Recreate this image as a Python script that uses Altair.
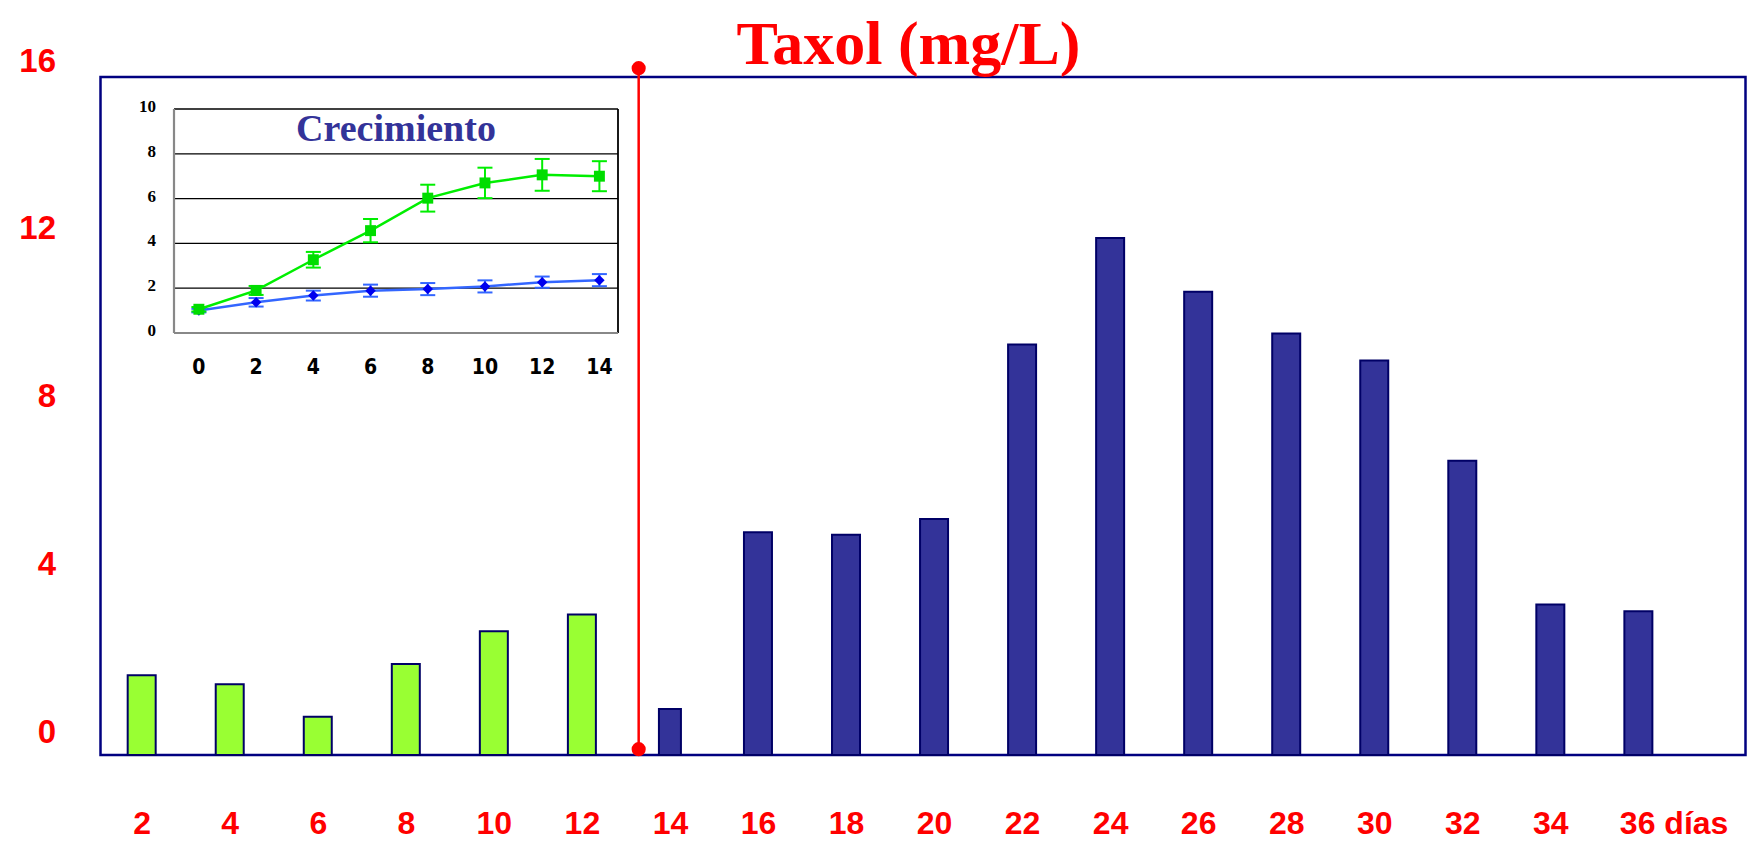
import altair as alt
import pandas as pd

# ---------------- data ----------------
days = [2, 4, 6, 8, 10, 12, 14, 16, 18, 20, 22, 24, 26, 28, 30, 32, 34, 36]
taxol = [1.90, 1.69, 0.91, 2.17, 2.95, 3.35, 1.10, 5.31, 5.25, 5.63,
         9.79, 12.33, 11.05, 10.05, 9.41, 7.02, 3.59, 3.43]
phase = ["crecimiento"] * 6 + ["producción"] * 12
y_ticks = [0, 4, 8, 12, 16]
title_text = "Taxol (mg/L)"

divider_day = 13.29
divider_span = [0.14, 16.38]

inset_title_text = "Crecimiento"
inset_days = [0, 2, 4, 6, 8, 10, 12, 14]
green_vals = [1.06, 1.90, 3.27, 4.57, 6.02, 6.70, 7.06, 7.00]
green_err = [0.10, 0.20, 0.35, 0.52, 0.60, 0.68, 0.71, 0.67]
blue_vals = [1.00, 1.37, 1.67, 1.89, 1.96, 2.08, 2.27, 2.36]
blue_err = [0.08, 0.19, 0.22, 0.27, 0.27, 0.27, 0.25, 0.27]
inset_y_ticks = [0, 2, 4, 6, 8, 10]
inset_grid = [2, 4, 6, 8, 10]

# ---------------- layout constants ----------------
W, H = 1645, 678
X_DOM = [1.178, 38.32]
Y_DOM = [0, 16.17]
IX_DOM = [-0.87, 14.65]
IY_DOM = [0, 10]
IX_RANGE = [73.5, 517.5]
IY_RANGE = [256, 32]

RED = "#FF0000"
NAVY = "#000066"
SANS = "Liberation Sans"
NARROW = "Liberation Sans Narrow, Arial Narrow, DejaVu Sans Condensed, Liberation Sans"
SERIF = "Liberation Serif"

main_df = pd.DataFrame({"day": days, "taxol": taxol, "phase": phase})
div_df = pd.DataFrame({"day": [divider_day], "y": [divider_span[1]], "y2": [divider_span[0]]})
dot_df = pd.DataFrame({"day": [divider_day, divider_day], "y": divider_span})

xs = alt.Scale(domain=X_DOM, nice=False, zero=False)
ys = alt.Scale(domain=Y_DOM, nice=False, zero=True)

x_axis = alt.Axis(
    values=days, title=None, domain=False, ticks=False, tickSize=0, grid=False,
    labelExpr="datum.value == 36 ? '36 días' : datum.label",
    labelAlign={"condition": {"test": "datum.value == 36", "value": "left"}, "value": "center"},
    labelOffset={"condition": {"test": "datum.value == 36", "value": -19}, "value": 0},
    labelFont=SANS, labelFontSize=32, labelFontWeight="bold", labelColor=RED,
    labelPadding=78, labelBaseline="alphabetic", labelFlush=False,
    labelOverlap=False, labelBound=False,
)
y_axis = alt.Axis(
    values=y_ticks, title=None, domain=False, ticks=False, tickSize=0, grid=False,
    labelFont=SANS, labelFontSize=33, labelFontWeight="bold", labelColor=RED,
    labelPadding=45, labelOffset=-23, labelFlush=False, labelOverlap=False,
)

bars = alt.Chart(main_df).mark_bar(stroke=NAVY, strokeWidth=2).encode(
    x=alt.X("day:Q", scale=xs, axis=x_axis),
    y=alt.Y("taxol:Q", scale=ys, axis=y_axis),
    color=alt.Color("phase:N", scale=alt.Scale(domain=["crecimiento", "producción"],
                                               range=["#99FF33", "#333399"]), legend=None),
    size=alt.condition("datum.day == 14", alt.value(22), alt.value(28)),
)

divider = alt.Chart(div_df).mark_rule(color=RED, strokeWidth=2.5).encode(
    x=alt.X("day:Q", scale=xs), y=alt.Y("y:Q", scale=ys), y2="y2:Q"
)
dots = alt.Chart(dot_df).mark_circle(color=RED, opacity=1, size=200).encode(
    x=alt.X("day:Q", scale=xs), y=alt.Y("y:Q", scale=ys)
)

title = alt.Chart(pd.DataFrame({"t": [title_text]})).mark_text(
    font=SERIF, fontSize=62, fontWeight="bold", color=RED, align="center", baseline="alphabetic"
).encode(x=alt.value(808), y=alt.value(-13), text="t:N")

main = alt.layer(bars, divider, dots, title)

# ---------------- inset ----------------
ixs = alt.Scale(domain=IX_DOM, range=IX_RANGE, nice=False, zero=False)
iys = alt.Scale(domain=IY_DOM, range=IY_RANGE, nice=False, zero=False)

series_df = pd.DataFrame({
    "day": inset_days * 2,
    "v": green_vals + blue_vals,
    "err": green_err + blue_err,
    "serie": ["verde"] * len(inset_days) + ["azul"] * len(inset_days),
})
series_df["lo"] = series_df["v"] - series_df["err"]
series_df["hi"] = series_df["v"] + series_df["err"]
g_df = series_df[series_df.serie == "verde"]
b_df = series_df[series_df.serie == "azul"]


def IX(field):
    return alt.X(field, scale=ixs, axis=None)


def IY(field):
    return alt.Y(field, scale=iys, axis=None)


grid_df = pd.DataFrame({"g": inset_grid})
grid = alt.Chart(grid_df).mark_rule(color="#000000", strokeWidth=1.3).encode(
    y=IY("g:Q"),
    x=alt.XDatum(IX_DOM[0], scale=ixs, axis=None),
    x2=alt.datum(IX_DOM[1]),
)
right_line = alt.Chart(pd.DataFrame({"a": [IX_DOM[1]]})).mark_rule(color="#000000", strokeWidth=1.8).encode(
    x=IX("a:Q"),
    y=alt.YDatum(IY_DOM[0], scale=iys, axis=None),
    y2=alt.datum(IY_DOM[1]),
)
left_line = alt.Chart(pd.DataFrame({"a": [IX_DOM[0]]})).mark_rule(color="#888888", strokeWidth=2.2).encode(
    x=IX("a:Q"),
    y=alt.YDatum(IY_DOM[0], scale=iys, axis=None),
    y2=alt.datum(IY_DOM[1]),
)
bottom_line = alt.Chart(pd.DataFrame({"a": [IY_DOM[0]]})).mark_rule(color="#888888", strokeWidth=2.2).encode(
    y=IY("a:Q"),
    x=alt.XDatum(IX_DOM[0], scale=ixs, axis=None),
    x2=alt.datum(IX_DOM[1]),
)


def series_layers(df, line_color, mark_color, shape, msize):
    line = alt.Chart(df).mark_line(color=line_color, strokeWidth=2.5).encode(
        x=IX("day:Q"), y=IY("v:Q"))
    err = alt.Chart(df).mark_rule(color=line_color, strokeWidth=2).encode(
        x=IX("day:Q"), y=IY("lo:Q"), y2="hi:Q")
    cap_lo = alt.Chart(df).mark_tick(color=line_color, orient="horizontal", thickness=2, size=15, opacity=1).encode(
        x=IX("day:Q"), y=IY("lo:Q"))
    cap_hi = alt.Chart(df).mark_tick(color=line_color, orient="horizontal", thickness=2, size=15, opacity=1).encode(
        x=IX("day:Q"), y=IY("hi:Q"))
    pts = alt.Chart(df).mark_point(shape=shape, filled=True, color=mark_color, opacity=1, size=msize).encode(
        x=IX("day:Q"), y=IY("v:Q"))
    return [line, err, cap_lo, cap_hi, pts]


blue_layers = series_layers(b_df, "#3366FF", "#0000EE", "diamond", 110)
green_layers = series_layers(g_df, "#00EE00", "#00DD00", "square", 120)

iy_lab = alt.Chart(pd.DataFrame({"t": inset_y_ticks})).mark_text(
    font=SERIF, fontSize=17, fontWeight="bold", color="#000000", align="right", baseline="middle", dx=-18, dy=-2
).encode(
    y=IY("t:Q"),
    x=alt.XDatum(IX_DOM[0], scale=ixs, axis=None),
    text="t:Q",
)
ix_lab = alt.Chart(pd.DataFrame({"t": inset_days})).mark_text(
    font=NARROW, fontSize=21, fontWeight="bold", color="#000000", align="center", baseline="middle", dy=35
).encode(
    x=IX("t:Q"),
    y=alt.YDatum(IY_DOM[0], scale=iys, axis=None),
    text="t:Q",
)
inset_title = alt.Chart(pd.DataFrame({"t": [inset_title_text]})).mark_text(
    font=SERIF, fontSize=38, fontWeight="bold", color="#333399", align="center", baseline="middle"
).encode(
    x=alt.XDatum(sum(IX_DOM) / 2, scale=ixs, axis=None),
    y=alt.YDatum(9.07, scale=iys, axis=None),
    text="t:N",
)

inset = alt.layer(grid, right_line, left_line, bottom_line,
                  *blue_layers, *green_layers, iy_lab, ix_lab, inset_title)

chart = alt.layer(main, inset).resolve_scale(x="independent", y="independent").properties(
    width=W, height=H,
    autosize=alt.AutoSizeParams(type="none"),
    padding={"left": 92.5, "top": 69, "right": 9, "bottom": 84},
    background="white",
).configure_view(stroke="#000080", strokeWidth=2.5)

chart.save("out.html", embed_options={"renderer": "svg", "actions": False})
